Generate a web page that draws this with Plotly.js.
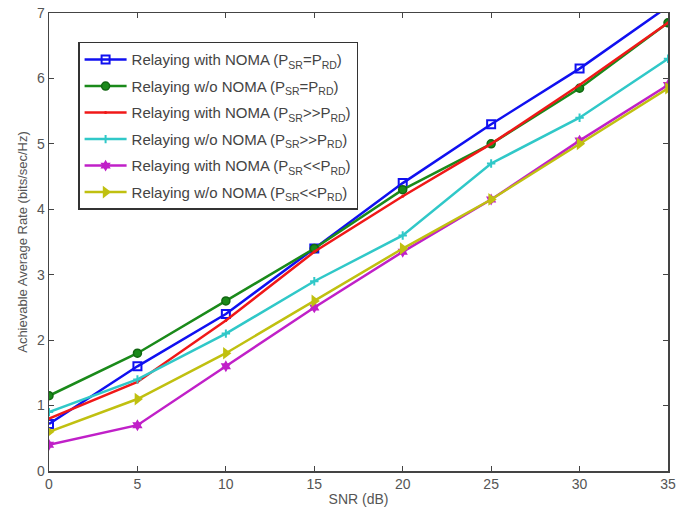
<!DOCTYPE html>
<html><head><meta charset="utf-8">
<script src="https://cdn.plot.ly/plotly-3.0.1.min.js"></script>
<style>body{margin:0;background:#fff}#c{width:684px;height:512px}</style>
</head><body><div id="c"></div>
<script>
var snr = [0, 5, 10, 15, 20, 25, 30, 35];
var withNomaEq   = [0.72, 1.6, 2.4, 3.4, 4.4, 5.3, 6.15, 7.1];
var woNomaEq     = [1.15, 1.8, 2.6, 3.4, 4.3, 5.0, 5.85, 6.85];
var withNomaGt   = [0.8, 1.36, 2.3, 3.35, 4.2, 5.0, 5.9, 6.85];
var woNomaGt     = [0.9, 1.4, 2.1, 2.9, 3.6, 4.7, 5.4, 6.3];
var withNomaLt   = [0.4, 0.7, 1.6, 2.5, 3.35, 4.15, 5.05, 5.9];
var woNomaLt     = [0.6, 1.1, 1.8, 2.6, 3.4, 4.15, 5.0, 5.85];
var names = [
  'Relaying with NOMA (P<sub>SR</sub>=P<sub>RD</sub>)',
  'Relaying w/o NOMA (P<sub>SR</sub>=P<sub>RD</sub>)',
  'Relaying with NOMA (P<sub>SR</sub>>>P<sub>RD</sub>)',
  'Relaying w/o NOMA (P<sub>SR</sub>>>P<sub>RD</sub>)',
  'Relaying with NOMA (P<sub>SR</sub><<P<sub>RD</sub>)',
  'Relaying w/o NOMA (P<sub>SR</sub><<P<sub>RD</sub>)'
];
var series = [withNomaEq, woNomaEq, withNomaGt, woNomaGt, withNomaLt, woNomaLt];
var colors = ['#1010f0', '#1a8a1a', '#f01818', '#30c8c8', '#c020c8', '#c0c010'];
var markers = [
  {symbol:'square-open', size:8, line:{width:2}},
  {symbol:'circle', size:8, line:{width:1.5, color:'#116611'}},
  {symbol:'circle', size:3},
  {symbol:'cross-thin-open', size:6, line:{width:2}},
  {symbol:'hexagram', size:9},
  {symbol:'triangle-right', size:11}
];
var traces = series.map(function(s, i){
  var m = Object.assign({color: colors[i]}, markers[i]);
  if (m.line && !m.line.color) m.line.color = colors[i];
  return {x: snr, y: s, name: names[i], type:'scatter', mode:'lines+markers', legendgroup:'g'+i,
    line:{color: colors[i], width:2.5}, marker: m, cliponaxis: true};
});
var layout = {
  width:684, height:512,
  margin:{l:49, r:16, t:13, b:41},
  paper_bgcolor:'#fff', plot_bgcolor:'#fff',
  font:{family:'Liberation Sans, Arial, sans-serif', color:'#444'},
  xaxis:{range:[0,35], tickvals:[0,5,10,15,20,25,30,35], ticks:'inside', ticklen:5,
    showline:true, linecolor:'#444', linewidth:1.5, mirror:'ticks', showgrid:false, zeroline:false,
    tickfont:{size:14, color:'#555'}, title:{text:'SNR (dB)', font:{size:14, color:'#555'}, standoff:3}},
  yaxis:{range:[0,7], tickvals:[0,1,2,3,4,5,6,7], ticks:'inside', ticklen:5,
    showline:true, linecolor:'#444', linewidth:1.5, mirror:'ticks', showgrid:false, zeroline:false,
    tickfont:{size:14, color:'#555'}, title:{text:'Achievable Average Rate (bits/sec/Hz)', font:{size:13, color:'#555'}, standoff:6}},
  legend:{x:0.047, y:0.937, xanchor:'left', yanchor:'top', bgcolor:'#fff',
    bordercolor:'#333', borderwidth:1.5, font:{size:15, color:'#444'}, tracegroupgap:4, itemwidth:42},
  showlegend:true
};
Plotly.newPlot('c', traces, layout, {displayModeBar:false, staticPlot:true});
</script></body></html>
